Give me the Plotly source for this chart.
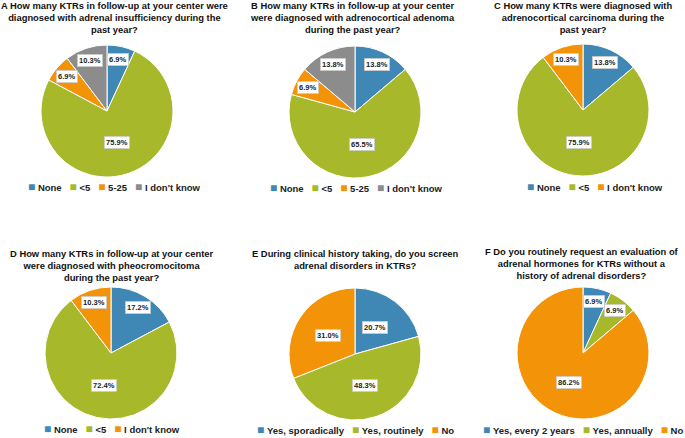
import math
import plotly.graph_objects as go

# ---------------- data ----------------
titles = [
    "A How many KTRs in follow-up at your center were<br>diagnosed with adrenal insufficiency during the<br>past year?",
    "B How many KTRs in follow-up at your center<br>were diagnosed with adrenocortical adenoma<br>during the past year?",
    "C How many KTRs were diagnosed with<br>adrenocortical carcinoma during the<br>past year?",
    "D How many KTRs in follow-up at your center<br>were diagnosed with pheocromocitoma<br>during the past year?",
    "E During clinical history taking, do you screen<br>adrenal disorders in KTRs?",
    "F Do you routinely request an evaluation of<br>adrenal hormones for KTRs without a<br>history of adrenal disorders?",
]
labels_A = ["None", "<5", "5-25", "I don't know"]
values_A = [6.9, 75.9, 6.9, 10.3]
labels_B = ["None", "<5", "5-25", "I don't know"]
values_B = [13.8, 65.5, 6.9, 13.8]
labels_C = ["None", "<5", "I don't know"]
values_C = [13.8, 75.9, 10.3]
labels_D = ["None", "<5", "I don't know"]
values_D = [17.2, 72.4, 10.3]
labels_E = ["Yes, sporadically", "Yes, routinely", "No"]
values_E = [20.7, 48.3, 31.0]
labels_F = ["Yes, every 2 years", "Yes, annually", "No"]
values_F = [6.9, 6.9, 86.2]

panels = [(labels_A, values_A), (labels_B, values_B), (labels_C, values_C),
          (labels_D, values_D), (labels_E, values_E), (labels_F, values_F)]

# ---------------- style / layout ----------------
W, H = 685, 438
colors = ["#3F88B6", "#A8B82B", "#F39408", "#8C8C8C"]
# pixel geometry per panel: pie centre, radius, title centre, legend centre
centers = [(107, 111), (355, 112), (583, 110), (111, 353), (355, 354), (583, 353)]
radius = 66
title_pos = [(115, 18), (353, 18), (583, 18), (111, 265), (355, 259), (582, 263)]
legend_pos = [(115, 187), (356, 188), (595, 187), (112, 429), (355, 430), (583, 430)]

FONT = "Liberation Sans, Arial, sans-serif"

def px(x):
    return x / W

def py(y):
    return 1 - y / H

fig = go.Figure()
annotations = []

for i, (labs, vals) in enumerate(panels):
    cx, cy = centers[i]
    cols = colors[:len(vals)]
    fig.add_trace(go.Pie(
        labels=labs, values=vals, sort=False, direction="clockwise", rotation=0,
        marker=dict(colors=cols, line=dict(color="white", width=1)),
        textinfo="none", hoverinfo="label+percent",
        domain=dict(x=[px(cx - radius), px(cx + radius)],
                    y=[py(cy + radius), py(cy - radius)]),
        showlegend=False,
    ))
    # data labels in white boxes
    total = sum(vals)
    cum = 0.0
    for v in vals:
        frac = v / total
        mid = (cum + frac / 2) * 2 * math.pi
        cum += frac
        rf = 0.5 if frac >= 0.2 else 0.8
        lx = cx + rf * radius * math.sin(mid)
        ly = cy - rf * radius * math.cos(mid)
        annotations.append(dict(
            x=px(lx), y=py(ly), xref="paper", yref="paper", showarrow=False,
            text=f"<b>{v:.1f}%</b>", font=dict(family=FONT, size=7.5, color="#222"),
            bgcolor="white", bordercolor="#BFBFBF", borderwidth=0.6, borderpad=1.5,
            xanchor="center", yanchor="middle"))
    # title
    tx, ty = title_pos[i]
    annotations.append(dict(
        x=px(tx), y=py(ty), xref="paper", yref="paper", showarrow=False,
        text=f"<b>{titles[i]}</b>", font=dict(family=FONT, size=9.4, color="#111"),
        xanchor="center", yanchor="middle", align="center"))
    # legend (coloured squares + labels)
    items = [f"<span style='color:{c};font-size:12px'>■</span>&nbsp;<b>{lab.replace('<', '&lt;')}</b>"
             for c, lab in zip(cols, labs)]
    lx, ly = legend_pos[i]
    annotations.append(dict(
        x=px(lx), y=py(ly), xref="paper", yref="paper", showarrow=False,
        text="&nbsp;&nbsp;&nbsp;".join(items),
        font=dict(family=FONT, size=9.5, color="#222"),
        xanchor="center", yanchor="middle"))

fig.update_layout(
    width=W, height=H, margin=dict(l=0, r=0, t=0, b=0, autoexpand=False),
    paper_bgcolor="white", plot_bgcolor="white",
    annotations=annotations,
)

fig.write_html("out.html")
